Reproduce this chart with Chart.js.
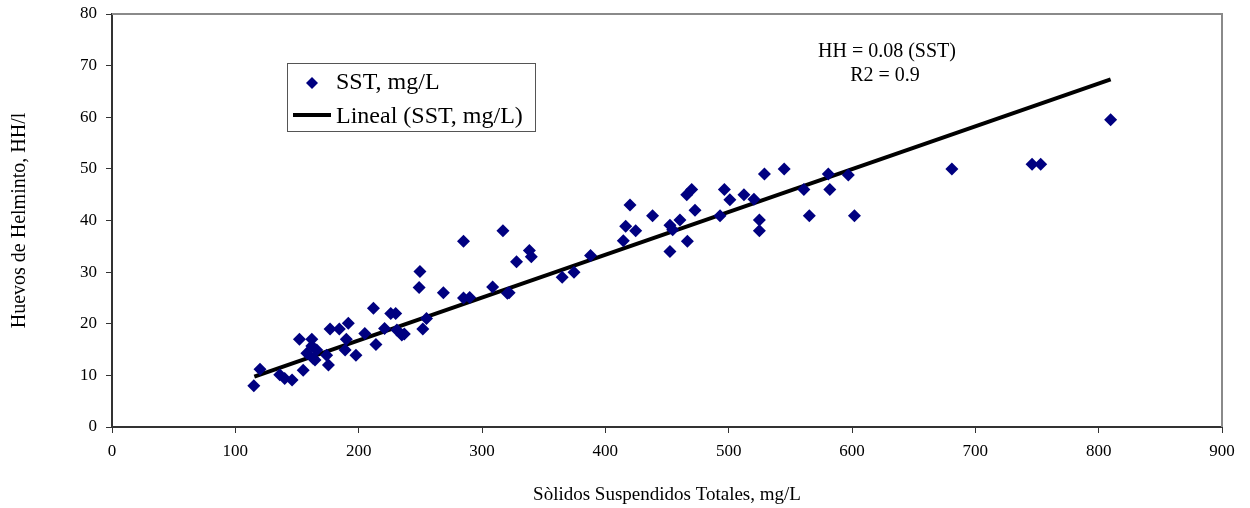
<!DOCTYPE html>
<html>
<head>
<meta charset="utf-8">
<title>Huevos de Helminto vs SST</title>
<script src="https://cdn.jsdelivr.net/npm/chart.js"></script>
<style>
  html, body { margin: 0; padding: 0; background: #fff; }
  #wrap { width: 1250px; height: 508px; }
</style>
</head>
<body>
<div id="wrap"><canvas id="chart" width="1250" height="508"></canvas></div>
<script>
// datos
const sstX = [115, 120, 136, 140, 146, 152, 155, 158, 162, 162, 163, 164.6, 166, 174, 175.5, 176.8, 184.3, 189, 190, 191.6,
  197.8, 205, 212, 214, 221, 226, 230, 231, 235, 237, 249.7, 249, 252, 255, 268.7, 285, 285, 290, 308.6, 317,
  320.6, 322, 328, 338.4, 340, 365, 374.6, 388, 414.6, 416.5, 420, 424.6, 438.3, 452.4, 452.4, 454.6, 460.5, 466.5, 466, 470,
  472.7, 493, 496.5, 501, 512.4, 520.5, 524.9, 524.9, 529, 545, 561, 565.4, 580.8, 582, 597, 602, 681, 746, 753, 809.7];
const hhY = [8, 11.2, 10.1, 9.4, 9.1, 17, 11, 14.3, 17, 15.7, 13.3, 13, 14.9, 13.9, 12, 19, 19, 14.9, 17, 20.1,
  13.9, 18.1, 23, 16, 19.1, 22, 22, 18.8, 17.8, 18, 30.1, 27, 19, 21, 26, 36, 25, 25.1, 27.1, 38,
  25.9, 26, 32, 34.2, 33, 29, 30, 33.2, 36.1, 38.9, 43, 38, 40.9, 39.1, 34, 38.2, 40.1, 36, 45, 46,
  42, 40.9, 46, 44, 45, 44.1, 40.1, 38, 49, 50, 46, 40.9, 49, 46, 48.8, 40.9, 50, 50.9, 50.9, 59.5];

// linea de tendencia (extremos leidos)
const trendX = [115.4, 809.7];
const trendY = [9.75, 67.35];

const xTicks = [0, 100, 200, 300, 400, 500, 600, 700, 800, 900];
const yTicks = [0, 10, 20, 30, 40, 50, 60, 70, 80];

const eqLines = ['HH = 0.08 (SST)', 'R2 = 0.9'];

const serif = "'Liberation Serif', 'Times New Roman', serif";
const navy = '#000080';

const points = sstX.map((x, i) => ({ x: x, y: hhY[i] }));
const trend = trendX.map((x, i) => ({ x: x, y: trendY[i] }));

// caja del grafico: borde gris arriba y a la derecha
const frameBox = {
  id: 'frameBox',
  afterDraw(chart) {
    const { ctx, chartArea: a } = chart;
    ctx.save();
    ctx.strokeStyle = '#8a8a8a';
    ctx.lineWidth = 2;
    ctx.beginPath();
    ctx.moveTo(a.left, a.top);
    ctx.lineTo(a.right, a.top);
    ctx.lineTo(a.right, a.bottom);
    ctx.stroke();
    ctx.restore();
  }
};

// leyenda y ecuacion
const legendBox = {
  id: 'legendBox',
  afterDraw(chart) {
    const ctx = chart.ctx;
    const ds = chart.data.datasets;
    ctx.save();
    ctx.fillStyle = '#fff';
    ctx.fillRect(287, 63, 249, 69);
    ctx.strokeStyle = '#555';
    ctx.lineWidth = 1;
    ctx.strokeRect(287.5, 63.5, 248, 68);

    // rombo
    ctx.fillStyle = navy;
    ctx.beginPath();
    ctx.moveTo(312, 77);
    ctx.lineTo(318, 83);
    ctx.lineTo(312, 89);
    ctx.lineTo(306, 83);
    ctx.closePath();
    ctx.fill();

    // linea
    ctx.strokeStyle = '#000';
    ctx.lineWidth = 4;
    ctx.beginPath();
    ctx.moveTo(293, 115);
    ctx.lineTo(331, 115);
    ctx.stroke();

    ctx.fillStyle = '#000';
    ctx.font = '24px ' + serif;
    ctx.textBaseline = 'middle';
    ctx.textAlign = 'left';
    ctx.fillText(ds[0].label, 336, 83);
    ctx.fillText(ds[1].label, 336, 117);

    ctx.font = '20px ' + serif;
    ctx.textAlign = 'center';
    ctx.fillText(eqLines[0], 887, 52);
    ctx.fillText(eqLines[1], 885, 76);
    ctx.restore();
  }
};

new Chart(document.getElementById('chart'), {
  type: 'scatter',
  data: {
    datasets: [
      {
        label: 'SST, mg/L',
        data: points,
        pointStyle: 'rectRot',
        pointRadius: 6.5,
        pointHoverRadius: 6.5,
        backgroundColor: navy,
        borderColor: navy,
        borderWidth: 0,
        order: 1
      },
      {
        label: 'Lineal (SST, mg/L)',
        data: trend,
        showLine: true,
        borderColor: '#000',
        borderWidth: 4,
        pointRadius: 0,
        fill: false,
        order: 2
      }
    ]
  },
  options: {
    responsive: false,
    animation: false,
    layout: { padding: { top: 14, right: 28, left: 0, bottom: 0 } },
    plugins: {
      legend: { display: false },
      tooltip: { enabled: false }
    },
    scales: {
      x: {
        type: 'linear',
        min: 0,
        max: 900,
        afterBuildTicks(scale) { scale.ticks = xTicks.map(v => ({ value: v })); },
        afterFit(scale) {
          scale.height = 81;
          scale.paddingLeft = 0;
          scale.paddingRight = 0;
        },
        border: { color: '#333', width: 2 },
        grid: { drawOnChartArea: false, drawTicks: true, tickLength: 6, color: '#333' },
        ticks: { color: '#000', font: { family: serif, size: 17 }, padding: 8, maxRotation: 0 },
        title: {
          display: true,
          text: 'Sòlidos Suspendidos Totales, mg/L',
          color: '#000',
          font: { family: serif, size: 19 },
          padding: { top: 2, bottom: 2 }
        }
      },
      y: {
        type: 'linear',
        min: 0,
        max: 80,
        afterBuildTicks(scale) { scale.ticks = yTicks.map(v => ({ value: v })); },
        afterFit(scale) {
          scale.width = 112;
          scale.paddingTop = 0;
          scale.paddingBottom = 0;
        },
        border: { color: '#333', width: 2 },
        grid: { drawOnChartArea: false, drawTicks: true, tickLength: 6, color: '#333' },
        ticks: { color: '#000', font: { family: serif, size: 17 }, padding: 9 },
        title: {
          display: true,
          text: 'Huevos de Helminto, HH/l',
          color: '#000',
          font: { family: serif, size: 20 },
          padding: { top: 8, bottom: 0 }
        }
      }
    }
  },
  plugins: [frameBox, legendBox]
});
</script>
</body>
</html>
